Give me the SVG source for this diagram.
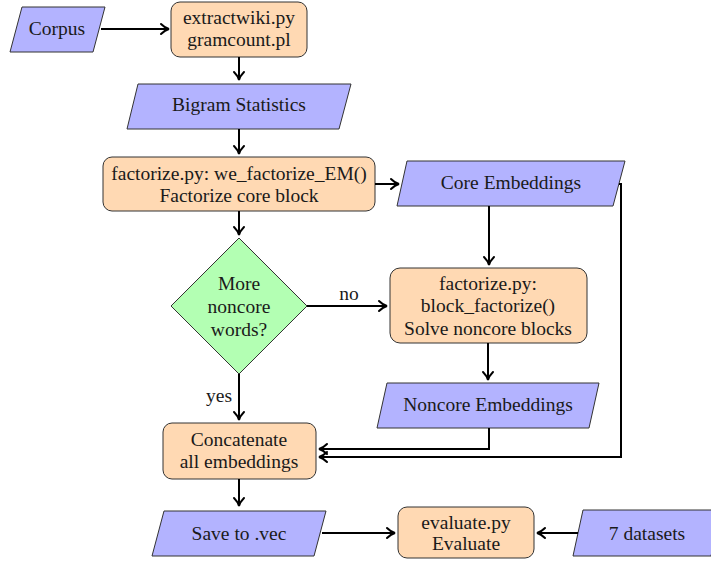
<svg xmlns="http://www.w3.org/2000/svg" width="711" height="561" viewBox="0 0 711 561">
<style>
  text { fill: #1a1a1a; text-anchor: middle; font-size: 19.5px; font-family: "Liberation Serif", "DejaVu Serif", serif; }
  .io { fill: #b3b3ff; stroke: #333; stroke-width: 1; }
  .proc { fill: #ffd9b3; stroke: #333; stroke-width: 1; }
  .dec { fill: #b3ffb3; stroke: #333; stroke-width: 1; }
  .conn path { fill: none; stroke: #000; stroke-width: 2; marker-end: url(#arr); }
</style>
<defs>
  <marker id="arr" markerUnits="userSpaceOnUse" markerWidth="14" markerHeight="14" refX="1" refY="0" viewBox="-10 -7 14 14" orient="auto">
    <path d="M -7 -5 C -4 -2, -1.5 -0.6, 1 0 C -1.5 0.6, -4 2, -7 5" fill="none" stroke="#000" stroke-width="2" stroke-linecap="round"/>
  </marker>
</defs>

<g id="corpus">
  <polygon class="io" points="22,7 105,7 93,52 10,52"/>
  <text x="57" y="35">Corpus</text>
</g>
<g id="extract">
  <rect class="proc" x="171" y="2" width="136" height="55" rx="9"/>
  <text x="239" y="24">extractwiki.py</text>
  <text x="239" y="46">gramcount.pl</text>
</g>
<g id="bigram">
  <polygon class="io" points="138,84 351,84 339,129 127,129"/>
  <text x="239" y="111">Bigram Statistics</text>
</g>
<g id="factorize">
  <rect class="proc" x="103" y="157" width="272" height="54" rx="9"/>
  <text x="239" y="180">factorize.py: we_factorize_EM()</text>
  <text x="239" y="202">Factorize core block</text>
</g>
<g id="core">
  <polygon class="io" points="407,161 625,161 613,206 397,206"/>
  <text x="511" y="189">Core Embeddings</text>
</g>
<g id="decision">
  <polygon class="dec" points="239,238 307,306 239,374 171,306"/>
  <text x="239" y="290">More</text>
  <text x="239" y="313">noncore</text>
  <text x="239" y="336">words?</text>
</g>
<g id="block">
  <rect class="proc" x="390" y="268" width="197" height="75" rx="10"/>
  <text x="488" y="290">factorize.py:</text>
  <text x="488" y="312">block_factorize()</text>
  <text x="488" y="335">Solve noncore blocks</text>
</g>
<g id="noncore">
  <polygon class="io" points="387,383 599,383 589,428 377,428"/>
  <text x="488" y="411">Noncore Embeddings</text>
</g>
<g id="concat">
  <rect class="proc" x="163" y="423" width="153" height="56" rx="9"/>
  <text x="239" y="446">Concatenate</text>
  <text x="239" y="468">all embeddings</text>
</g>
<g id="save">
  <polygon class="io" points="164,511 326,511 314,556 152,556"/>
  <text x="239" y="540">Save to .vec</text>
</g>
<g id="evaluate">
  <rect class="proc" x="398" y="507" width="136" height="51" rx="9"/>
  <text x="466" y="529">evaluate.py</text>
  <text x="466" y="550">Evaluate</text>
</g>
<g id="datasets">
  <polygon class="io" points="583,510 721,510 711,556 573,556"/>
  <text x="647" y="540">7 datasets</text>
</g>

<g class="conn" id="connectors">
  <path d="M 101 29 L 169 29"/>
  <path d="M 239 57 L 239 80"/>
  <path d="M 239 129 L 239 154"/>
  <path d="M 375 184 L 399 184"/>
  <path d="M 239 211 L 239 235"/>
  <path d="M 489 206 L 489 265"/>
  <path d="M 307 306 L 387 306"/>
  <path d="M 488 343 L 488 380"/>
  <path d="M 239 374 L 239 420"/>
  <path d="M 489 428 L 489 449 L 319 449"/>
  <path d="M 619 184 L 621 184 L 621 457 L 319 457"/>
  <path d="M 239 479 L 239 506"/>
  <path d="M 322 533 L 395 533"/>
  <path d="M 578 533 L 537 533"/>
  <text x="349" y="300">no</text>
  <text x="219" y="402">yes</text>
</g>
</svg>
